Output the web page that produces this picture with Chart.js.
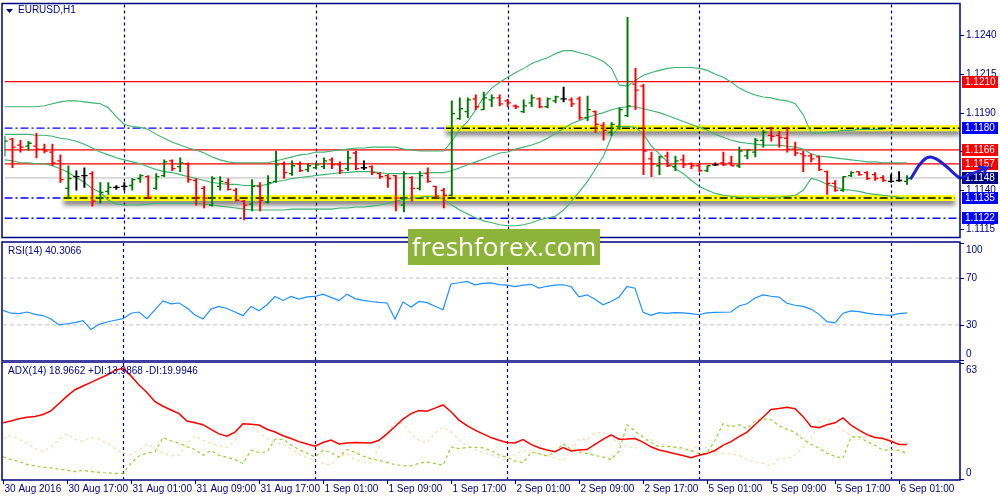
<!DOCTYPE html>
<html>
<head>
<meta charset="utf-8">
<script src="https://cdn.jsdelivr.net/npm/chart.js@4/dist/chart.umd.min.js"></script>
<style>
  body { margin: 0; background: #fff; width: 1000px; height: 500px; overflow: hidden; position: relative; }
  canvas { position: absolute; left: 0; }
  #cMain { top: 0; }
  #cRsi { top: 241px; }
  #cAdx { top: 361px; }
  #brand { position: absolute; left: 408px; top: 229px; width: 192px; height: 36px; background: #8db33a;
           color: #fff; font: 26px "Open Sans", "Noto Sans", sans-serif; text-align: center; line-height: 35px; }
</style>
</head>
<body>
<canvas id="cMain" width="1000" height="241"></canvas>
<canvas id="cRsi" width="1000" height="120"></canvas>
<canvas id="cAdx" width="1000" height="139"></canvas>
<div id="brand">freshforex.com</div>
<script>
// EURUSD H1, 30 Aug 09:00 .. 6 Sep 02:00 (bar index 0..113)
var opens = [1.11665,1.11729,1.11691,1.11684,1.11684,1.11665,1.11646,1.11590,1.11412,1.11488,
  1.11495,1.11507,1.11349,1.11393,1.11419,1.11425,1.11431,1.11476,1.11488,1.11412,
  1.11495,1.11590,1.11552,1.11571,1.11463,1.11412,1.11305,1.11425,1.11450,1.11400,
  1.11330,1.11311,1.11425,1.11324,1.11457,1.11571,1.11507,1.11571,1.11533,1.11545,
  1.11552,1.11596,1.11564,1.11539,1.11640,1.11545,1.11552,1.11507,1.11495,1.11495,
  1.11305,1.11482,1.11412,1.11507,1.11425,1.11400,1.11368,1.11862,1.11906,1.11988,
  1.11919,1.11982,1.11995,1.11976,1.11944,1.11906,1.11963,1.11988,1.11938,1.11976,
  1.11988,1.11982,1.11988,1.11868,1.11906,1.11817,1.11773,1.11811,1.11881,1.12083,
  1.12071,1.11602,1.11558,1.11621,1.11552,1.11596,1.11571,1.11558,1.11526,1.11564,
  1.11577,1.11577,1.11558,1.11621,1.11646,1.11722,1.11754,1.11754,1.11735,1.11665,
  1.11634,1.11621,1.11615,1.11520,1.11444,1.11400,1.11495,1.11520,1.11514,1.11501,
  1.11482,1.11457,1.11463,1.11457];
var highs = [1.11748,1.11735,1.11722,1.11716,1.11767,1.11697,1.11697,1.11628,1.11558,1.11526,
  1.11545,1.11520,1.11450,1.11450,1.11431,1.11450,1.11476,1.11501,1.11495,1.11507,
  1.11596,1.11596,1.11609,1.11577,1.11476,1.11425,1.11488,1.11488,1.11476,1.11412,
  1.11336,1.11469,1.11450,1.11495,1.11653,1.11583,1.11590,1.11583,1.11571,1.11577,
  1.11609,1.11609,1.11583,1.11653,1.11653,1.11590,1.11558,1.11514,1.11501,1.11495,
  1.11520,1.11488,1.11520,1.11545,1.11425,1.11412,1.11976,1.11995,1.11995,1.12014,
  1.12033,1.12014,1.12014,1.11988,1.11950,1.11982,1.12014,1.11995,1.11995,1.12007,
  1.12064,1.11995,1.12001,1.12007,1.11912,1.11836,1.11836,1.11931,1.12514,1.12185,
  1.12083,1.11646,1.11621,1.11646,1.11621,1.11628,1.11577,1.11571,1.11558,1.11577,
  1.11646,1.11621,1.11678,1.11659,1.11735,1.11786,1.11805,1.11779,1.11805,1.11710,
  1.11653,1.11634,1.11621,1.11526,1.11463,1.11488,1.11520,1.11520,1.11520,1.11514,
  1.11495,1.11501,1.11520,1.11495];
var lows = [1.11621,1.11545,1.11646,1.11659,1.11609,1.11640,1.11558,1.11450,1.11349,1.11400,
  1.11419,1.11298,1.11317,1.11374,1.11406,1.11400,1.11400,1.11450,1.11349,1.11406,
  1.11488,1.11526,1.11520,1.11450,1.11305,1.11286,1.11298,1.11400,1.11400,1.11330,
  1.11210,1.11267,1.11267,1.11317,1.11450,1.11476,1.11495,1.11520,1.11520,1.11539,
  1.11539,1.11539,1.11507,1.11526,1.11533,1.11533,1.11501,1.11476,1.11419,1.11267,
  1.11260,1.11330,1.11400,1.11450,1.11349,1.11286,1.11362,1.11856,1.11868,1.11919,
  1.11919,1.11938,1.11944,1.11938,1.11925,1.11900,1.11938,1.11931,1.11931,1.11963,
  1.11969,1.11938,1.11856,1.11849,1.11773,1.11722,1.11754,1.11792,1.11874,1.11919,
  1.11501,1.11488,1.11501,1.11552,1.11526,1.11545,1.11539,1.11520,1.11520,1.11558,
  1.11558,1.11558,1.11545,1.11602,1.11615,1.11678,1.11716,1.11678,1.11646,1.11621,
  1.11520,1.11583,1.11526,1.11374,1.11393,1.11393,1.11488,1.11495,1.11469,1.11463,
  1.11457,1.11450,1.11457,1.11438];
var closes = [1.11716,1.11678,1.11678,1.11703,1.11665,1.11653,1.11577,1.11469,1.11476,1.11488,
  1.11495,1.11330,1.11387,1.11419,1.11419,1.11425,1.11469,1.11495,1.11355,1.11488,
  1.11583,1.11539,1.11577,1.11469,1.11355,1.11349,1.11476,1.11457,1.11406,1.11336,
  1.11305,1.11425,1.11336,1.11450,1.11564,1.11514,1.11558,1.11526,1.11558,1.11564,
  1.11590,1.11564,1.11526,1.11609,1.11539,1.11545,1.11514,1.11488,1.11476,1.11349,
  1.11507,1.11412,1.11495,1.11457,1.11362,1.11368,1.11893,1.11925,1.11982,1.11938,
  1.11995,1.11995,1.11957,1.11963,1.11938,1.11944,1.11995,1.11938,1.11988,1.12001,
  1.11988,1.11957,1.11868,1.11919,1.11824,1.11786,1.11824,1.11919,1.11944,1.12045,
  1.11653,1.11571,1.11615,1.11558,1.11590,1.11564,1.11558,1.11526,1.11558,1.11564,
  1.11564,1.11558,1.11653,1.11659,1.11722,1.11773,1.11748,1.11741,1.11665,1.11640,
  1.11621,1.11602,1.11533,1.11444,1.11400,1.11488,1.11514,1.11501,1.11476,1.11476,
  1.11463,1.11457,1.11463,1.11476];

// Bollinger bands
var bbUpper = [1.11938,1.11938,1.11938,1.11938,1.11938,1.11944,1.11957,1.11969,1.11976,1.11976,
  1.11969,1.11963,1.11957,1.11931,1.11874,1.11824,1.11811,1.11805,1.11792,1.11760,
  1.11735,1.11710,1.11691,1.11672,1.11659,1.11640,1.11615,1.11596,1.11583,1.11577,
  1.11577,1.11577,1.11577,1.11577,1.11590,1.11602,1.11615,1.11628,1.11634,1.11646,
  1.11646,1.11653,1.11659,1.11665,1.11672,1.11672,1.11678,1.11678,1.11678,1.11678,
  1.11665,1.11659,1.11653,1.11653,1.11653,1.11653,1.11716,1.11792,1.11843,1.11919,
  1.12001,1.12058,1.12096,1.12128,1.12159,1.12185,1.12216,1.12235,1.12254,1.12280,
  1.12299,1.12299,1.12286,1.12273,1.12254,1.12229,1.12185,1.12077,1.12071,1.12109,
  1.12140,1.12159,1.12172,1.12185,1.12191,1.12191,1.12191,1.12185,1.12172,1.12147,
  1.12128,1.12096,1.12058,1.12033,1.12014,1.12001,1.11995,1.11982,1.11976,1.11957,
  1.11887,1.11767,1.11767,1.11773,1.11779,1.11786,1.11786,1.11792,1.11792,1.11792,
  1.11792,null,null,null];
var bbMiddle = [1.11760,1.11760,1.11760,1.11760,1.11754,1.11754,1.11748,1.11735,1.11729,1.11716,
  1.11697,1.11672,1.11646,1.11628,1.11609,1.11596,1.11583,1.11571,1.11552,1.11533,
  1.11520,1.11514,1.11501,1.11488,1.11476,1.11463,1.11450,1.11444,1.11438,1.11438,
  1.11431,1.11431,1.11431,1.11438,1.11457,1.11463,1.11476,1.11482,1.11488,1.11495,
  1.11501,1.11507,1.11514,1.11514,1.11520,1.11520,1.11520,1.11514,1.11507,1.11507,
  1.11507,1.11507,1.11507,1.11514,1.11514,1.11514,1.11526,1.11545,1.11564,1.11583,
  1.11602,1.11621,1.11640,1.11646,1.11665,1.11678,1.11691,1.11710,1.11735,1.11767,
  1.11798,1.11830,1.11849,1.11868,1.11887,1.11900,1.11919,1.11931,1.11938,1.11938,
  1.11925,1.11912,1.11900,1.11881,1.11862,1.11843,1.11824,1.11805,1.11786,1.11760,
  1.11741,1.11722,1.11710,1.11703,1.11697,1.11691,1.11691,1.11691,1.11684,1.11678,
  1.11665,1.11634,1.11621,1.11615,1.11609,1.11602,1.11596,1.11590,1.11583,1.11583,
  1.11577,1.11577,1.11577,1.11577];
var bbLower = [1.11596,1.11590,1.11577,1.11577,1.11571,1.11571,1.11558,1.11539,1.11514,1.11482,
  1.11450,1.11412,1.11387,1.11336,1.11311,1.11305,1.11305,1.11305,1.11311,1.11317,
  1.11317,1.11317,1.11317,1.11317,1.11317,1.11311,1.11305,1.11298,1.11292,1.11286,
  1.11279,1.11273,1.11273,1.11273,1.11273,1.11273,1.11279,1.11279,1.11279,1.11279,
  1.11279,1.11279,1.11286,1.11286,1.11292,1.11292,1.11298,1.11305,1.11317,1.11330,
  1.11343,1.11349,1.11355,1.11362,1.11362,1.11343,1.11305,1.11273,1.11248,1.11222,
  1.11203,1.11191,1.11178,1.11172,1.11172,1.11178,1.11191,1.11210,1.11222,1.11235,
  1.11273,1.11330,1.11393,1.11457,1.11539,1.11621,1.11748,1.11811,1.11811,1.11805,
  1.11760,1.11684,1.11634,1.11583,1.11539,1.11507,1.11463,1.11425,1.11400,1.11380,
  1.11368,1.11362,1.11355,1.11355,1.11355,1.11355,1.11355,1.11355,1.11362,1.11368,
  1.11400,1.11476,1.11463,1.11438,1.11419,1.11406,1.11400,1.11393,1.11380,1.11374,
  1.11368,1.11362,1.11355,1.11349];

var rsiValues = [42.4,40,39.6,41,39,38,35,30,31,32,
  33.6,26,30.5,32.5,34,35.3,40,41,35.3,43,
  50.5,48,48.7,44.4,38.5,35,43.5,45.8,44,41,
  37.9,45.8,42.1,47.2,54.3,50.9,54.3,52,54,54.3,
  56.3,53.5,50.9,56.3,52.5,51,50,49.2,48.7,35,
  49.5,45.3,50,49,46,43,65,66,67.1,64.3,
  65.5,65.9,64.5,64,62.8,64,64.7,61.4,63,64,
  64.3,62.8,54,55.7,52,47.2,50,53.8,62.8,61.4,
  40.7,38.2,40.5,39.8,40.5,40.3,39.6,38.7,40.2,40.7,
  40.8,41,46.2,48.1,53,55.7,54.5,53.8,48.5,46.8,
  45.8,43.5,39,32.8,31.7,40,42,41.4,40,39,
  38.5,38.2,39.6,40.3];

var adxValues = [30.5,31.5,32.7,33.5,34,35,37,41,45,48.5,
  50.5,52.5,54.5,56.5,59,60.2,56,51,47,42,
  39.5,37.5,35.5,31.5,30.5,29.5,27,24.5,23.2,25.5,
  30,29.8,29.3,27,25.5,23.5,22,20.3,19,17.8,
  19.8,21.2,19,19.5,19.8,19.7,19.6,21,24.5,28.5,
  32.5,35.5,37.2,36.8,38.5,40.2,36.5,32,29,26.5,
  24.5,22.5,21,19.8,19.6,21.4,18.8,17,15.8,14.8,
  17.1,15.2,15.8,16,18.8,21.5,24,21.6,21.7,22,
  20,17.5,15.8,14.8,13.7,12.8,11.5,12.9,13.8,15.5,
  18.3,20.3,23,25.5,29.5,33.5,37.8,38.3,38.9,38.2,
  34,28.5,27.8,29.5,30.5,33.2,29.2,26.5,24.1,22.5,
  22,20.5,18.8,18.7];
var plusDI = [12,10.5,9.5,7.9,7,6.4,6,5.4,4.7,4,
  4.8,4,3.6,3.2,3.1,3.1,8.5,12.5,14.2,14.7,
  22.5,20.8,19.5,17.5,16,12.9,15.5,12.9,11.8,10.5,
  8.4,15.6,14.4,14.7,21.5,21.5,18.5,16,14,12,
  15.6,14.4,12,16,14.5,12.5,11,10,9,7.8,
  7.2,7.1,8.5,9.3,8.4,7.5,17.4,16.5,17.2,17.2,
  16.9,15.5,13,11.8,9.7,8.8,14.5,13.8,12.5,14.5,
  19.2,16,14.8,13.8,12.8,12,10.5,15,29.5,26,
  22.8,19.8,17.4,17.8,17.3,16.8,15.4,13.8,14,21,
  30,28.3,29.5,27.3,31.5,32.7,32.2,29,27,25.3,
  21.5,18.9,16.7,14,12.3,11.2,22.8,23,20.3,18.3,
  15.6,16,15.5,14];
var minusDI = [21.9,23.7,21.5,19.5,16.5,14.7,17.5,21.5,24.5,21.5,
  20.5,22.5,21.5,19.5,16.5,14,13,16,18.7,17,
  14,12.5,12.9,19.5,23.5,21,19.5,18,17,21,
  32.7,29,25.5,22,19.9,18.7,16.5,13.5,11.5,10.2,
  8.4,7.7,12,13.5,10.5,9,8.8,17,25,30.5,
  30,24.5,21,19.5,25,28.2,25.5,21.5,18,16,
  14.5,13,11.5,10.2,13.5,15.6,15.2,13.8,12.8,11.5,
  9.7,15.6,21.9,21.2,25,25.4,22.5,19.5,18,16.5,
  20.5,21.3,19.9,17.4,17,15.8,15,19,16.9,15,
  14,13.5,12.9,10.5,9,8.6,7,11,11,13,
  17,22,31,33.5,29.5,26.5,23.5,21.5,23.4,23.2,
  22.8,21.5,20.5,20];

// hand drawn levels and forecast
var levelPrices = [1.1210, 1.1180, 1.1166, 1.1157, 1.1148, 1.1135, 1.1122];
var zonePrices = [1.1180, 1.1135];
var zoneFrom = [55.25, 7.4];
var zoneTo = [119.625, 119];
var forecastIdx = [113.4, 115, 116.1, 117.5, 118.75, 119.6];
var forecastPrice = [1.11471, 1.11591, 1.11613, 1.11571, 1.11514, 1.11476];
var arrowIdx = [119.6, 123, 121.9, 123, 122.5];
var arrowPrice = [1.11476, 1.11545, 1.11552, 1.11545, 1.11501];

var priceTicks = [1.1115, 1.1140, 1.1165, 1.1190, 1.1215, 1.1240];
var rsiTicks = [100, 70, 30, 0];
var rsiLevels = [70, 30];
var adxTicks = [63, 0];
var daySeparators = [15, 39, 63, 87, 111];
var xTickIdx = [0, 8, 16, 24, 32, 40, 48, 56, 64, 72, 80, 88, 96, 104, 112];
var xTickText = ['30 Aug 2016', '30 Aug 17:00', '31 Aug 01:00', '31 Aug 09:00', '31 Aug 17:00',
  '1 Sep 01:00', '1 Sep 09:00', '1 Sep 17:00', '2 Sep 01:00', '2 Sep 09:00', '2 Sep 17:00',
  '5 Sep 01:00', '5 Sep 09:00', '5 Sep 17:00', '6 Sep 01:00'];

var NAVY = '#000080';
var FONT = '10px "Liberation Sans", Arial, sans-serif';
var X_MAX = 119.625;
var DASHDOT = [8, 3, 2, 3];
var levelColors = ['#ff0000', '#0000ff', '#ff0000', '#ff0000', '#c8c8c8', '#0000ff', '#0000ff'];
var levelDash = [[], DASHDOT, [], [], [], DASHDOT, DASHDOT];
var levelTagColors = ['#ff0000', '#0000ff', '#ff0000', '#ff0000', '#000080', '#0000ff', '#0000ff'];

function pts(vals) {
  return vals.map(function (v, i) { return { x: i, y: v }; });
}
function hline(y, x0, x1) {
  return [{ x: x0, y: y }, { x: x1, y: y }];
}
function pairs(xs, ys) {
  return xs.map(function (x, i) { return { x: x, y: ys[i] }; });
}

var barColors = opens.map(function (o, i) {
  if (closes[i] > o) return '#007a00';
  if (closes[i] < o) return '#ff0000';
  return '#000000';
});

function frame(chart) {
  var a = chart.chartArea, c = chart.ctx;
  c.save();
  c.strokeStyle = NAVY;
  c.lineWidth = 1.5;
  c.strokeRect(2, a.top - 1, a.right - 2, a.bottom - a.top + 2);
  c.restore();
}

function separators(chart) {
  var a = chart.chartArea, c = chart.ctx, sx = chart.scales.x;
  c.save();
  c.strokeStyle = NAVY;
  c.lineWidth = 1.2;
  c.setLineDash([3, 3]);
  daySeparators.forEach(function (i) {
    var px = Math.round(sx.getPixelForValue(i)) + 0.5;
    c.beginPath();
    c.moveTo(px, a.top);
    c.lineTo(px, a.bottom);
    c.stroke();
  });
  c.restore();
}

function axisLabels(chart, vals, digits) {
  var a = chart.chartArea, c = chart.ctx, sy = chart.scales.y;
  c.save();
  c.font = FONT;
  c.fillStyle = NAVY;
  c.strokeStyle = NAVY;
  c.lineWidth = 1;
  vals.forEach(function (v) {
    var py = Math.round(sy.getPixelForValue(v));
    var ty = py, base = 'middle';
    if (py - a.top < 5) { base = 'top'; ty = a.top + 2; }
    if (a.bottom - py < 5) { base = 'bottom'; ty = a.bottom - 1; }
    c.beginPath();
    c.moveTo(a.right, py + 0.5);
    c.lineTo(a.right + 4, py + 0.5);
    c.stroke();
    c.textBaseline = base;
    c.fillText(v.toFixed(digits), a.right + 6, ty);
  });
  c.restore();
}

function title(chart, text) {
  var c = chart.ctx;
  c.save();
  c.font = FONT;
  c.fillStyle = NAVY;
  c.textBaseline = 'top';
  c.fillText(text, chart.chartArea.top > 2 ? 18 : 8, 5);
  c.restore();
}

var mainPlugin = {
  id: 'mainPanel',
  beforeDatasetsDraw: function (chart) {
    var c = chart.ctx, sy = chart.scales.y, a = chart.chartArea;
    separators(chart);
    axisLabels(chart, priceTicks, 4);
    c.save();
    c.font = FONT;
    c.textBaseline = 'middle';
    levelPrices.forEach(function (p, k) {
      var py = Math.round(sy.getPixelForValue(p));
      c.fillStyle = levelTagColors[k];
      c.fillRect(a.right + 2, py - 6, 36, 12);
      c.fillStyle = '#ffffff';
      c.fillText(p.toFixed(4), a.right + 5, py + 0.5);
    });
    c.restore();
  },
  beforeDatasetDraw: function (chart, args) {
    if (chart.data.datasets[args.index].shadow) {
      var c = chart.ctx;
      c.save();
      c.shadowColor = 'rgba(0,0,0,0.55)';
      c.shadowBlur = 5;
      c.shadowOffsetY = 4;
    }
  },
  afterDatasetDraw: function (chart, args) {
    if (chart.data.datasets[args.index].shadow) chart.ctx.restore();
  },
  afterDraw: function (chart) {
    var c = chart.ctx;
    frame(chart);
    title(chart, 'EURUSD,H1');
    c.save();
    c.fillStyle = NAVY;
    c.beginPath();
    c.moveTo(6, 9);
    c.lineTo(13, 9);
    c.lineTo(9.5, 13);
    c.closePath();
    c.fill();
    c.restore();
  }
};

var mainSets = [];
// price bars: high-low stem, open tick left, close tick right
mainSets.push({
  type: 'bar',
  data: highs.map(function (h, i) { return { x: i, y: [lows[i], h] }; }),
  backgroundColor: barColors,
  borderWidth: 0,
  barThickness: 1.3,
  order: 1
});
mainSets.push({
  type: 'line', data: pts(opens), showLine: false,
  pointStyle: 'dash', pointRotation: 180, pointRadius: 3.2, pointHoverRadius: 3.2,
  pointBorderWidth: 1.3, pointBorderColor: barColors, pointBackgroundColor: barColors, order: 1
});
mainSets.push({
  type: 'line', data: pts(closes), showLine: false,
  pointStyle: 'dash', pointRotation: 0, pointRadius: 3.2, pointHoverRadius: 3.2,
  pointBorderWidth: 1.3, pointBorderColor: barColors, pointBackgroundColor: barColors, order: 1
});
[bbUpper, bbMiddle, bbLower].forEach(function (band) {
  mainSets.push({
    type: 'line', data: pts(band), borderColor: '#3cb371', borderWidth: 1.1,
    pointRadius: 0, spanGaps: false, order: 4
  });
});
levelPrices.forEach(function (p, k) {
  var z = zonePrices.indexOf(p);
  var end = z >= 0 ? zoneFrom[z] : X_MAX;
  mainSets.push({
    type: 'line', data: hline(p, 0, end), borderColor: levelColors[k],
    borderWidth: levelDash[k].length ? 1.4 : 1.3, borderDash: levelDash[k],
    pointRadius: 0, order: 6
  });
});
zonePrices.forEach(function (p, z) {
  mainSets.push({
    type: 'line', data: hline(p, zoneFrom[z], zoneTo[z]), borderColor: '#ffff00',
    borderWidth: 6, pointRadius: 0, order: 9, shadow: true
  });
  mainSets.push({
    type: 'line', data: hline(p, zoneFrom[z], zoneTo[z]), borderColor: '#000000',
    borderWidth: 1.5, borderDash: DASHDOT, pointRadius: 0, order: 8
  });
});
mainSets.push({
  type: 'line', data: pairs(forecastIdx, forecastPrice), borderColor: '#2020d8',
  borderWidth: 3, tension: 0.45, pointRadius: 0, order: 0
});
mainSets.push({
  type: 'line', data: pairs(arrowIdx, arrowPrice), borderColor: '#2020d8',
  borderWidth: 2.5, pointRadius: 0, clip: false, order: 0
});

function baseOptions(ymin, ymax, pad) {
  return {
    responsive: false,
    animation: false,
    devicePixelRatio: 1,
    events: [],
    layout: { padding: pad },
    plugins: { legend: { display: false }, tooltip: { enabled: false } },
    scales: {
      x: { type: 'linear', min: 0, max: X_MAX, offset: false, display: false },
      y: { type: 'linear', min: ymin, max: ymax, display: false }
    }
  };
}

new Chart(document.getElementById('cMain'), {
  type: 'bar',
  data: { datasets: mainSets },
  options: baseOptions(1.111025, 1.125962, { left: 3, right: 40, top: 3, bottom: 2 }),
  plugins: [mainPlugin]
});

// RSI panel
new Chart(document.getElementById('cRsi'), {
  type: 'line',
  data: {
    datasets: [
      { data: pts(rsiValues), borderColor: '#1e90ff', borderWidth: 1.2, pointRadius: 0, order: 0 },
      { data: hline(rsiLevels[0], 0, X_MAX), borderColor: '#c0c0c0', borderWidth: 1, borderDash: [4, 3], pointRadius: 0, order: 2 },
      { data: hline(rsiLevels[1], 0, X_MAX), borderColor: '#c0c0c0', borderWidth: 1, borderDash: [4, 3], pointRadius: 0, order: 2 }
    ]
  },
  options: baseOptions(0, 100, { left: 3, right: 40, top: 2, bottom: 1 }),
  plugins: [{
    id: 'rsiPanel',
    beforeDatasetsDraw: function (chart) {
      separators(chart);
      axisLabels(chart, rsiTicks, 0);
    },
    afterDraw: function (chart) {
      frame(chart);
      title(chart, 'RSI(14) 40.3066');
    }
  }]
});

// ADX panel with time axis
new Chart(document.getElementById('cAdx'), {
  type: 'line',
  data: {
    datasets: [
      { data: pts(adxValues), borderColor: '#ff0000', borderWidth: 1.5, pointRadius: 0, order: 0 },
      { data: pts(plusDI), borderColor: '#9acd32', borderWidth: 1.2, borderDash: [3, 3], pointRadius: 0, order: 1 },
      { data: pts(minusDI), borderColor: '#f5deb3', borderWidth: 1.2, borderDash: [3, 3], pointRadius: 0, order: 2 }
    ]
  },
  options: baseOptions(0, 63, { left: 3, right: 40, top: 2, bottom: 21 }),
  plugins: [{
    id: 'adxPanel',
    beforeDatasetsDraw: function (chart) {
      separators(chart);
      axisLabels(chart, adxTicks, 0);
    },
    afterDraw: function (chart) {
      var c = chart.ctx, a = chart.chartArea, sx = chart.scales.x;
      frame(chart);
      title(chart, 'ADX(14) 18.9662 +DI:13.9868 -DI:19.9946');
      c.save();
      c.font = FONT;
      c.fillStyle = NAVY;
      c.strokeStyle = NAVY;
      c.lineWidth = 1;
      c.textBaseline = 'top';
      xTickIdx.forEach(function (i, k) {
        var px = Math.round(sx.getPixelForValue(i)) + 0.5;
        c.beginPath();
        c.moveTo(px, a.bottom + 1);
        c.lineTo(px, a.bottom + 5);
        c.stroke();
        c.fillText(xTickText[k], px + 1, a.bottom + 5);
      });
      c.restore();
    }
  }]
});
</script>
</body>
</html>
